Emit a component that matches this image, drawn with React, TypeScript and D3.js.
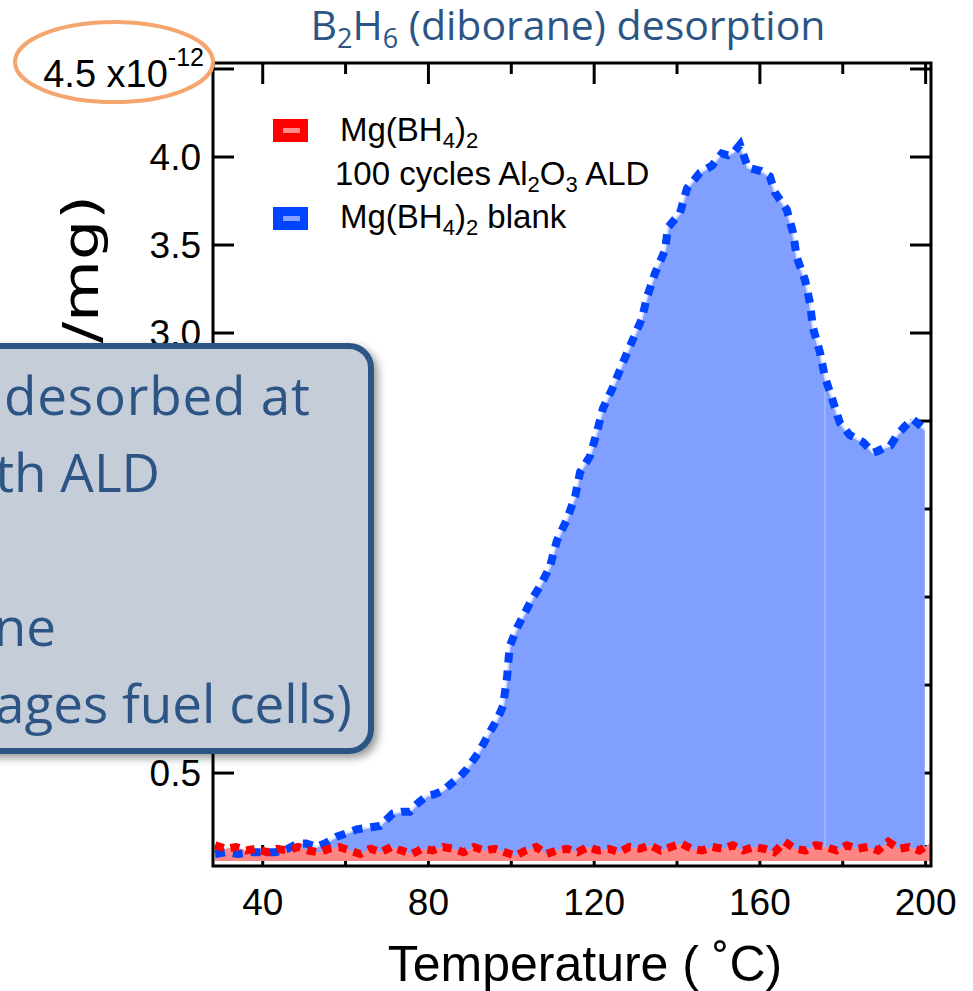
import * as d3 from 'd3';

const W = 973;
const H = 991;
const FRAME = { left: 213, right: 931, top: 63, bottom: 866 };

// Mg(BH4)2 blank (blue)
const blankTemps = [
  28.5, 31, 34, 37, 40, 43, 46, 48.5, 50.5, 53, 55, 58, 60.5, 62.7, 65.5, 68.3, 71.4, 73.5,
  75.5, 77.5, 79.6, 81.5, 83.5, 85.5, 87.6, 89.2, 90.7, 92.2, 93.6, 95, 96.5, 98, 99, 99.6,
  101.5, 103.5, 105.3, 106.9, 109.3, 111, 113.4, 115.4, 116.6, 119, 120.7, 122.1, 124.5,
  126.9, 129.1, 131.5, 132.7, 134.7, 137.1, 137.8, 140.7, 142.4, 145.5, 148.4, 150.8, 152.3,
  153.8, 155.2, 157.1, 160.3, 162.4, 163.6, 166.5, 168, 168.9, 170.9, 172.1, 172.8, 174.5,
  175.7, 177.4, 179.3, 181.7, 184.9, 187.3, 188.5, 190.2, 191.5, 193.1, 195, 196.9, 198, 199.8,
];
const blankValues = [
  0.04, 0.05, 0.04, 0.05, 0.05, 0.05, 0.07, 0.1, 0.1, 0.08, 0.1, 0.14, 0.16, 0.18, 0.19, 0.2,
  0.27, 0.28, 0.28, 0.33, 0.37, 0.38, 0.4, 0.44, 0.48, 0.52, 0.57, 0.62, 0.68, 0.74, 0.8, 0.88,
  1.05, 1.22, 1.33, 1.42, 1.5, 1.56, 1.67, 1.82, 1.94, 2.07, 2.21, 2.3, 2.44, 2.57, 2.69, 2.83,
  2.95, 3.08, 3.2, 3.34, 3.47, 3.6, 3.68, 3.82, 3.91, 3.95, 4.02, 4.01, 4.03, 4.07, 3.94, 3.92,
  3.89, 3.8, 3.7, 3.57, 3.43, 3.3, 3.17, 3.03, 2.89, 2.75, 2.63, 2.49, 2.42, 2.38, 2.32, 2.33,
  2.35, 2.36, 2.42, 2.47, 2.51, 2.49, 2.45,
];

// Mg(BH4)2 with 100 cycles Al2O3 ALD (red)
const aldTemps = [
  28.5, 31, 33.5, 36, 38.5, 41, 43.5, 46, 48.5, 51, 53.5, 56, 58.5, 61, 63.5, 66, 68.5, 71,
  73.5, 76, 78.5, 81, 83.5, 86, 88.5, 91, 93.5, 96, 98.5, 101, 103.5, 106, 108.5, 111, 113.5,
  116, 118.5, 121, 123.5, 126, 128.5, 131, 133.5, 136, 138.5, 141, 143.5, 146, 148.5, 151,
  153.5, 156, 158.5, 161, 163.5, 166, 168.5, 171, 173.5, 176, 178.5, 181, 183.5, 186, 188.5,
  191, 193.5, 196, 198.5, 201,
];
const aldValues = [
  0.09, 0.07, 0.08, 0.06, 0.07, 0.05, 0.07, 0.06, 0.08, 0.06, 0.05, 0.07, 0.08, 0.06, 0.04,
  0.07, 0.05, 0.08, 0.06, 0.04, 0.07, 0.06, 0.08, 0.07, 0.05, 0.08, 0.06, 0.07, 0.05, 0.03,
  0.06, 0.08, 0.04, 0.06, 0.07, 0.05, 0.08, 0.06, 0.07, 0.05, 0.08, 0.07, 0.09, 0.06, 0.08,
  0.1, 0.07, 0.06, 0.08, 0.07, 0.09, 0.06, 0.08, 0.07, 0.05, 0.11, 0.07, 0.06, 0.09, 0.08,
  0.06, 0.09, 0.07, 0.08, 0.06, 0.11, 0.07, 0.08, 0.06, 0.1,
];

const xMajorTicks = [40, 80, 120, 160, 200];
const xMinorTicks = [60, 100, 140, 180];
const yTicks = [0.5, 1.0, 1.5, 2.0, 2.5, 3.0, 3.5, 4.0, 4.5];
const yLabelTicks = [0.5, 1.0, 1.5, 2.0, 2.5, 3.0, 3.5, 4.0];
const fillSeamTemp = 175.7;

// callout text, each line with the x where it ends (start is off the left edge)
const calloutLines = ['desorbed at', 'th ALD', '', 'ne', 'ages fuel cells)'];
const calloutEnds = [310, 160, 0, 56, 352];

const BLUE = '#0044ff';
const BLUE_FILL = '#809fff';
const RED = '#ff0000';
const RED_FILL = '#ff8585';
const NAVY = '#2c5585';
const AXIS_FONT = '"Liberation Sans", Arial, sans-serif';
const SLIDE_FONT = '"Open Sans", "Noto Sans", sans-serif';

export default function App() {
  const x = d3.scaleLinear().domain([28, 201.3]).range([FRAME.left, FRAME.right]);
  const y = d3.scaleLinear().domain([-0.028, 4.534]).range([FRAME.bottom, FRAME.top]);

  const blank = blankTemps.map((t, i) => [t, blankValues[i]] as [number, number]);
  const ald = aldTemps.map((t, i) => [t, aldValues[i]] as [number, number]);

  const area = d3.area<[number, number]>()
    .x(d => x(d[0]))
    .y0(y(0))
    .y1(d => y(d[1]));
  const line = d3.line<[number, number]>()
    .x(d => x(d[0]))
    .y(d => y(d[1]));

  const seam = blank.find(d => d[0] === fillSeamTemp) as [number, number];
  const tickLen = 21;

  return (
    <svg width={W} height={H} style={{ position: 'absolute', left: 0, top: 0, background: '#fff' }}>
      <defs>
        <filter id="shadow" x="-10%" y="-10%" width="130%" height="130%">
          <feDropShadow dx="4" dy="4" stdDeviation="4" floodColor="#000" floodOpacity="0.4" />
        </filter>
      </defs>

      {/* title */}
      <text x={568} y={40} textAnchor="middle" fill={NAVY} fontFamily={SLIDE_FONT} fontSize={41}>
        B<tspan fontSize={27} dy={8}>2</tspan>
        <tspan dy={-8}>H</tspan>
        <tspan fontSize={27} dy={8}>6</tspan>
        <tspan dy={-8}> (diborane) desorption</tspan>
      </text>

      {/* ticks */}
      <g stroke="#000" strokeWidth={3}>
        {yTicks.map(v => (
          <g key={'y' + v}>
            <line x1={FRAME.left} x2={FRAME.left + tickLen} y1={y(v)} y2={y(v)} />
            <line x1={FRAME.right} x2={FRAME.right - tickLen} y1={y(v)} y2={y(v)} />
          </g>
        ))}
        {xMajorTicks.map(t => (
          <g key={'xm' + t}>
            <line x1={x(t)} x2={x(t)} y1={FRAME.top} y2={FRAME.top + tickLen} />
            <line x1={x(t)} x2={x(t)} y1={FRAME.bottom} y2={FRAME.bottom - tickLen} />
          </g>
        ))}
        {xMinorTicks.map(t => (
          <g key={'xn' + t}>
            <line x1={x(t)} x2={x(t)} y1={FRAME.top} y2={FRAME.top + 11} />
            <line x1={x(t)} x2={x(t)} y1={FRAME.bottom} y2={FRAME.bottom - 11} />
          </g>
        ))}
      </g>

      {/* series */}
      <path d={area(blank) || ''} fill={BLUE_FILL} />
      <line x1={x(seam[0])} x2={x(seam[0])} y1={y(0)} y2={y(seam[1])} stroke="#a6baff" strokeWidth={1.5} />
      <path d={line(blank) || ''} fill="none" stroke="#dbe3ff" strokeWidth={2} />
      <path d={area(ald) || ''} fill={RED_FILL} />
      <path d={line(blank) || ''} fill="none" stroke={BLUE} strokeWidth={8} strokeDasharray="10,8" />
      <path d={line(ald) || ''} fill="none" stroke={RED} strokeWidth={8} strokeDasharray="9,7" />

      {/* frame */}
      <rect x={FRAME.left} y={FRAME.top} width={FRAME.right - FRAME.left} height={FRAME.bottom - FRAME.top}
        fill="none" stroke="#000" strokeWidth={3} />

      {/* tick labels */}
      <g fontFamily={AXIS_FONT} fontSize={37} fill="#000">
        {yLabelTicks.map(v => (
          <text key={'yl' + v} x={201} y={y(v)} dy="0.36em" textAnchor="end">{v.toFixed(1)}</text>
        ))}
        <text x={204} y={87} textAnchor="end" fontSize={38}>
          4.5 x10<tspan fontSize={25} dy={-21}>-12</tspan>
        </text>
        {xMajorTicks.map(t => (
          <text key={'xl' + t} x={x(t)} y={915} textAnchor="middle">{t}</text>
        ))}
        <text x={585} y={981} textAnchor="middle" fontSize={50}>Temperature ( ˚C)</text>
      </g>
      {/* y title: stretched along its length, mostly hidden behind the callout */}
      <text transform="translate(98,195) scale(1,1.27) rotate(-90)" textAnchor="end" fontSize={50}
        fontFamily='"DejaVu Sans", sans-serif' fill="#000">Intensity (A/mg)</text>

      {/* legend */}
      <g fontFamily={AXIS_FONT} fontSize={33} fill="#000">
        <rect x={273} y={119} width={35} height={23} fill={RED} />
        <rect x={283} y={128} width={17} height={5} fill="#ff8a8a" />
        <rect x={273} y={207} width={35} height={23} fill={BLUE} />
        <rect x={283} y={216} width={17} height={5} fill="#8aa2ff" />
        <text x={340} y={141}>
          Mg(BH<tspan fontSize={22} dy={7}>4</tspan><tspan dy={-7}>)</tspan><tspan fontSize={22} dy={7}>2</tspan>
        </text>
        <text x={335} y={185}>
          100 cycles Al<tspan fontSize={22} dy={7}>2</tspan><tspan dy={-7}>O</tspan><tspan fontSize={22} dy={7}>3</tspan><tspan dy={-7}> ALD</tspan>
        </text>
        <text x={340} y={228}>
          Mg(BH<tspan fontSize={22} dy={7}>4</tspan><tspan dy={-7}>)</tspan><tspan fontSize={22} dy={7}>2</tspan><tspan dy={-7}> blank</tspan>
        </text>
      </g>

      {/* highlight ellipse around exponent */}
      <ellipse cx={114} cy={62} rx={99} ry={40} fill="none" stroke="#f5a66e" strokeWidth={4} />

      {/* callout box */}
      <rect x={-40} y={346} width={411} height={405} rx={22} fill="#c5cdd8" stroke={NAVY} strokeWidth={6}
        filter="url(#shadow)" />
      <g fontFamily={SLIDE_FONT} fontSize={53} fill={NAVY}>
        {calloutLines.map((s, i) => (
          <text key={i} x={calloutEnds[i]} y={415 + i * 77} textAnchor="end"
            textLength={i === 0 ? 306 : undefined} lengthAdjust="spacing">{s}</text>
        ))}
      </g>
    </svg>
  );
}
